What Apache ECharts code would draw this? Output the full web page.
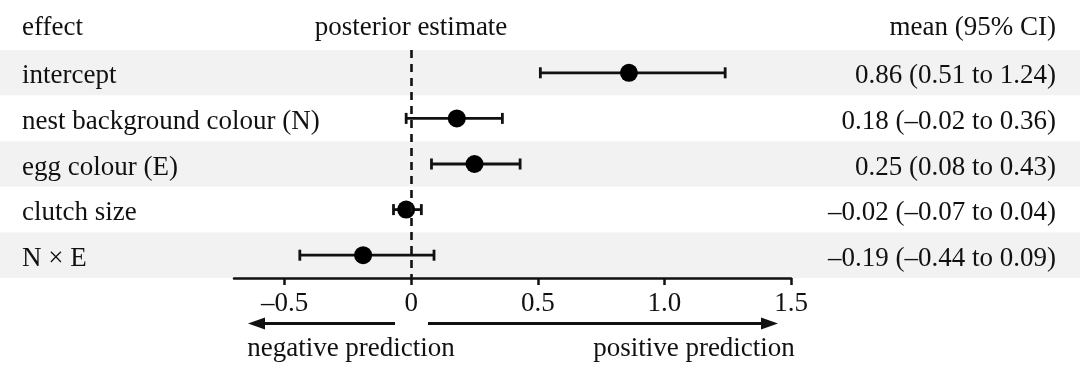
<!DOCTYPE html>
<html>
<head>
<meta charset="utf-8">
<script src="https://cdn.jsdelivr.net/npm/echarts@6/dist/echarts.min.js"></script>
<style>
html,body{margin:0;padding:0;background:#fff;}
#chart{width:1080px;height:369px;}
</style>
</head>
<body>
<div id="chart"></div>
<script>
// ---- data ----
const effects = ['intercept', 'nest background colour (N)', 'egg colour (E)', 'clutch size', 'N × E'];
const means = [0.86, 0.18, 0.25, -0.02, -0.19];
const lower = [0.51, -0.02, 0.08, -0.07, -0.44];
const upper = [1.24, 0.36, 0.43, 0.04, 0.09];
const tickValues = [-0.5, 0, 0.5, 1.0, 1.5];
const tickLabels = ['–0.5', '0', '0.5', '1.0', '1.5'];

const FONT = 'Liberation Serif';
const FS = 27;
const INK = '#111111';

function fmt(v) { return (v < 0 ? '–' : '') + Math.abs(v).toFixed(2); }
const ciLabels = means.map((m, i) => fmt(m) + ' (' + fmt(lower[i]) + ' to ' + fmt(upper[i]) + ')');

const chart = echarts.init(document.getElementById('chart'), null, {renderer: 'canvas'});

const GRID_TOP = 50, GRID_H = 228;
const PLOT_L = 234, PLOT_R = 289;

const option = {
  animation: false,
  backgroundColor: '#ffffff',
  textStyle: {fontFamily: FONT},
  grid: [
    {left: 0, right: 0, top: GRID_TOP, height: GRID_H},
    {left: PLOT_L, right: PLOT_R, top: GRID_TOP, height: GRID_H},
    {left: 0, right: 0, top: GRID_TOP + 3.5, height: GRID_H}
  ],
  xAxis: [
    {gridIndex: 0, type: 'value', min: 0, max: 1, show: false},
    {
      gridIndex: 1, type: 'value', min: -0.7, max: 1.5,
      splitLine: {show: false},
      axisLine: {show: true, onZero: false, lineStyle: {color: INK, width: 2.5}},
      axisTick: {show: true, length: 7, lineStyle: {color: INK, width: 2.5}, customValues: tickValues},
      axisLabel: {
        show: true, margin: 12, color: INK, fontFamily: FONT, fontSize: FS,
        customValues: tickValues,
        formatter: v => { const i = tickValues.findIndex(t => Math.abs(t - v) < 1e-9); return i >= 0 ? tickLabels[i] : ''; }
      }
    },
    {gridIndex: 2, type: 'value', min: 0, max: 1, show: false}
  ],
  yAxis: [
    {
      gridIndex: 0, type: 'category', data: effects, inverse: true,
      axisLine: {show: false}, axisTick: {show: false}, axisLabel: {show: false},
      splitArea: {show: true, areaStyle: {color: ['#f2f2f2', '#ffffff']}},
      splitLine: {show: false}
    },
    {
      gridIndex: 1, type: 'category', data: effects, inverse: true, show: false
    },
    {
      gridIndex: 2, type: 'category', data: effects, inverse: true, position: 'left',
      axisLine: {show: false}, axisTick: {show: false},
      axisLabel: {inside: true, margin: 22, color: INK, fontFamily: FONT, fontSize: FS, align: 'left'},
      splitArea: {show: false}, splitLine: {show: false}
    },
    {
      gridIndex: 2, type: 'category', data: ciLabels, inverse: true, position: 'right',
      axisLine: {show: false}, axisTick: {show: false},
      axisLabel: {inside: true, margin: 24, color: INK, fontFamily: FONT, fontSize: FS, align: 'right'},
      splitArea: {show: false}, splitLine: {show: false}
    }
  ],
  series: [
    {
      type: 'custom',
      xAxisIndex: 1, yAxisIndex: 1,
      data: effects.map((e, i) => [lower[i], upper[i], i]),
      encode: {x: [0, 1], y: 2},
      renderItem: function (params, api) {
        const a = api.coord([api.value(0), api.value(2)]);
        const b = api.coord([api.value(1), api.value(2)]);
        const h = 5.5;
        const style = {stroke: INK, lineWidth: 2.8};
        return {
          type: 'group',
          children: [
            {type: 'line', shape: {x1: a[0], y1: a[1], x2: b[0], y2: b[1]}, style: style},
            {type: 'line', shape: {x1: a[0], y1: a[1] - h, x2: a[0], y2: a[1] + h}, style: style},
            {type: 'line', shape: {x1: b[0], y1: b[1] - h, x2: b[0], y2: b[1] + h}, style: style}
          ]
        };
      },
      z: 3
    },
    {
      type: 'scatter',
      xAxisIndex: 1, yAxisIndex: 1,
      data: effects.map((e, i) => [means[i], i]),
      symbol: 'circle', symbolSize: 18,
      itemStyle: {color: '#000', opacity: 1},
      z: 4,
      markLine: {
        silent: true, symbol: 'none', label: {show: false},
        lineStyle: {color: INK, width: 2.6, type: [8, 6]},
        data: [{xAxis: 0}]
      }
    }
  ],
  graphic: [
    {type: 'text', x: 22, y: 28, style: {text: 'effect', font: FS + 'px ' + FONT, fill: INK, textAlign: 'left', textVerticalAlign: 'middle'}},
    {type: 'text', x: 411, y: 28, style: {text: 'posterior estimate', font: FS + 'px ' + FONT, fill: INK, textAlign: 'center', textVerticalAlign: 'middle'}},
    {type: 'text', x: 1056, y: 28, style: {text: 'mean (95% CI)', font: FS + 'px ' + FONT, fill: INK, textAlign: 'right', textVerticalAlign: 'middle'}},
    // arrows
    {type: 'line', shape: {x1: 395, y1: 323.5, x2: 260, y2: 323.5}, style: {stroke: INK, lineWidth: 2.8}},
    {type: 'polygon', shape: {points: [[248, 323.5], [265, 317.5], [265, 329.5]]}, style: {fill: INK}},
    {type: 'line', shape: {x1: 428, y1: 323.5, x2: 766, y2: 323.5}, style: {stroke: INK, lineWidth: 2.8}},
    {type: 'polygon', shape: {points: [[778, 323.5], [761, 317.5], [761, 329.5]]}, style: {fill: INK}},
    {type: 'text', x: 351, y: 349, style: {text: 'negative prediction', font: FS + 'px ' + FONT, fill: INK, textAlign: 'center', textVerticalAlign: 'middle'}},
    {type: 'text', x: 694, y: 349, style: {text: 'positive prediction', font: FS + 'px ' + FONT, fill: INK, textAlign: 'center', textVerticalAlign: 'middle'}}
  ]
};
chart.setOption(option);
</script>
</body>
</html>
